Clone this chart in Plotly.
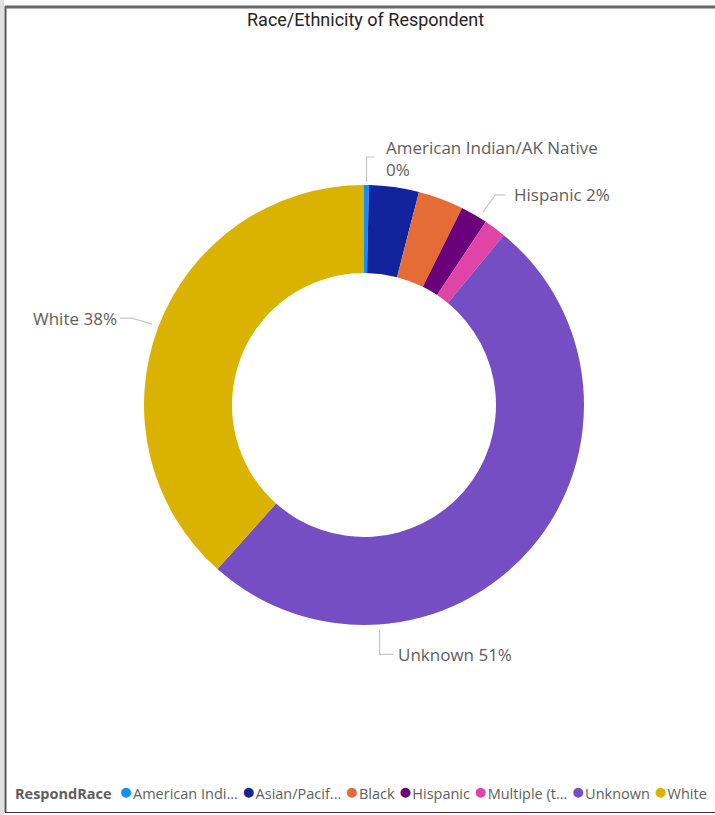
import math
import plotly.graph_objects as go

# ---- data ----
categories = ["American Indian/AK Native", "Asian/Pacific Islander", "Black", "Hispanic",
              "Multiple (two or more)", "Unknown", "White"]
legend_labels = ["American Indi...", "Asian/Pacif...", "Black", "Hispanic",
                 "Multiple (t...", "Unknown", "White"]
shares = [0.36, 3.66, 3.33, 1.99, 1.62, 50.64, 38.4]
colors = ["#118DFF", "#12239E", "#E66C37", "#6B007B", "#E044A7", "#744EC2", "#D9B300"]
labelled = ["American Indian/AK Native", "Hispanic", "Unknown", "White"]

W, H = 715, 815
CX, CY, R = 364, 405, 220

def px(x):
    return x / W

def py(y):
    return 1 - y / H

fig = go.Figure()
fig.add_trace(go.Pie(
    labels=categories, values=shares, hole=0.6, sort=False, direction="clockwise",
    rotation=0, marker=dict(colors=colors, line=dict(width=0)),
    textinfo="none", showlegend=False, hoverinfo="label+percent",
    domain=dict(x=[px(CX - R), px(CX + R)], y=[py(CY + R), py(CY - R)]),
))

total = sum(shares)
cum = []
acc = 0
for v in shares:
    cum.append((acc, acc + v))
    acc += v

def ring_point(frac, r):
    ang = 2 * math.pi * frac
    return CX + r * math.sin(ang), CY - r * math.cos(ang)

# label layout (style): anchor fraction override, elbow offset, text side
label_style = {
    "American Indian/AK Native": dict(frac=None, r=223, elbow=(0, -25), tail=8, side="right",
                                      text="American Indian/AK Native<br>0%", dy=1, gap=9),
    "Hispanic": dict(frac=0.088, r=227, elbow=(12, -17), tail=10, side="right", dy=0, gap=7),
    "White": dict(frac=None, r=227, elbow=(-20, -6), tail=-12, side="left", dy=0, gap=1),
    "Unknown": dict(frac=0.489, r=225, elbow=(0, 25), tail=14, side="right", dy=0, gap=2),
}

shapes = []
annotations = []
line_col = "#C8C6C4"
lab_font = dict(family="Open Sans", size=17, color="#605E5C")
for name in labelled:
    i = categories.index(name)
    st = label_style[name]
    a, b = cum[i]
    frac = st["frac"] if st["frac"] is not None else (a + b) / 2 / total
    x0, y0 = ring_point(frac, st["r"])
    x1, y1 = x0 + st["elbow"][0], y0 + st["elbow"][1]
    x2, y2 = x1 + st["tail"], y1
    path = f"M {px(x0)} {py(y0)} L {px(x1)} {py(y1)} L {px(x2)} {py(y2)}"
    shapes.append(dict(type="path", xref="paper", yref="paper", path=path,
                       line=dict(color=line_col, width=1.2)))
    pct = round(shares[i] / total * 100)
    txt = st.get("text", f"{name} {pct}%")
    if st["side"] == "right":
        annotations.append(dict(x=px(x2 + st["gap"]), y=py(y2 + st["dy"]), xref="paper",
                                yref="paper", text=txt, showarrow=False, xanchor="left",
                                yanchor="middle", align="left", font=lab_font))
    else:
        annotations.append(dict(x=px(x2 - st["gap"]), y=py(y2 + st["dy"]), xref="paper",
                                yref="paper", text=txt, showarrow=False, xanchor="right",
                                yanchor="middle", align="right", font=lab_font))

# legend as a single text line
parts = ["<b>RespondRace</b> "]
for lab, col in zip(legend_labels, colors):
    parts.append(f"<span style='color:{col};font-size:23px'>●</span>{lab}")
legend_text = " ".join(parts)
annotations.append(dict(x=px(13), y=py(790), xref="paper", yref="paper", text=legend_text,
                        showarrow=False, xanchor="left", yanchor="middle",
                        font=dict(family="Open Sans", size=14.5, color="#605E5C")))

# title
annotations.append(dict(x=px(365), y=py(20), xref="paper", yref="paper",
                        text="Race/Ethnicity of Respondent", showarrow=False,
                        xanchor="center", yanchor="middle",
                        font=dict(family="Roboto", size=18, color="#252423")))

# frame
shapes.append(dict(type="rect", xref="paper", yref="paper", x0=0, x1=px(4), y0=0, y1=1,
                   fillcolor="#E1E1E1", line=dict(width=0)))
shapes.append(dict(type="line", xref="paper", yref="paper", x0=px(5.5), x1=px(5.5),
                   y0=py(812), y1=py(6), line=dict(color="#555555", width=2)))
shapes.append(dict(type="line", xref="paper", yref="paper", x0=px(5), x1=1,
                   y0=py(7), y1=py(7), line=dict(color="#666666", width=3)))
shapes.append(dict(type="line", xref="paper", yref="paper", x0=px(5), x1=1,
                   y0=py(812.5), y1=py(812.5), line=dict(color="#333333", width=1)))

fig.update_layout(
    width=W, height=H, margin=dict(l=0, r=0, t=0, b=0),
    paper_bgcolor="white", plot_bgcolor="white",
    shapes=shapes, annotations=annotations, showlegend=False,
)
fig.write_html("out.html", config=dict(displayModeBar=False),
               post_script="document.body.style.margin='0';document.body.style.overflow='hidden';")
